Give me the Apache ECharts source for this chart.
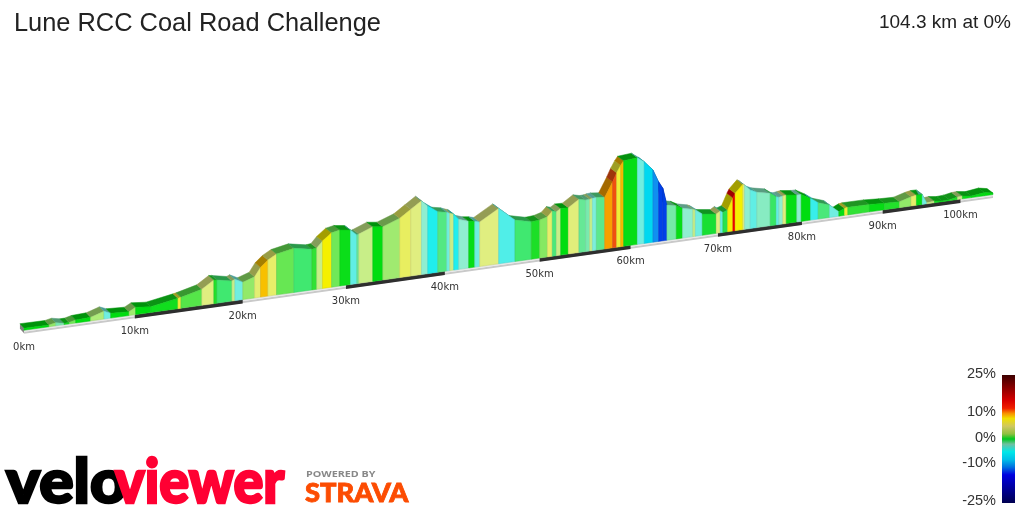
<!DOCTYPE html>
<html><head><meta charset="utf-8">
<style>html,body{margin:0;padding:0;background:#fff}#c{width:1024px;height:512px}</style>
<script src="https://cdn.jsdelivr.net/npm/echarts@6/dist/echarts.min.js"></script>
</head><body><div id="c"></div>
<script>
const titleText = 'Lune RCC Coal Road Challenge';
const summaryText = '104.3 km at 0%';
const tickKm = [0,10,20,30,40,50,60,70,80,90,100];
const darkBands = [[10,20],[30,40],[50,60],[70,80],[90,100]];
const totalKm = 104.3;
const kmStops = [0.17,2.35,2.94,3.67,4.11,4.70,6.03,7.22,7.82,9.47,10.07,11.44,13.94,14.22,16.16,17.28,17.57,18.98,19.26,20.01,
21.13,21.70,22.40,23.23,24.90,26.65,27.13,27.69,28.58,29.39,30.45,31.08,31.28,32.67,33.68,35.39,36.51,37.60,38.24,39.27,
40.20,40.51,40.92,41.44,42.48,43.11,43.63,45.63,47.36,49.11,50.01,50.84,51.37,51.81,52.28,53.11,54.27,55.01,55.45,55.75,
56.19,57.11,57.99,58.44,58.89,59.22,60.76,61.54,62.52,63.16,63.65,64.11,65.18,65.90,67.09,67.37,68.18,69.80,70.27,70.57,71.13,
71.75,72.01,72.93,73.13,73.80,74.58,76.18,76.90,77.21,77.69,78.10,79.38,79.91,81.05,81.98,83.37,84.52,85.22,85.63,88.33,
90.22,92.12,93.61,94.29,95.03,95.62,96.61,97.65,98.56,99.61,100.26,101.44,103.16,104.3];
const elevations = [4,3.4,6.2,2.6,2.8,6,7.3,15.7,9.8,7.8,14.9,11.9,21.3,22.5,33.2,49.1,48.3,42,44.7,36.2,
44.5,62.6,75.9,86,93.2,86.2,87.5,100.9,116,119.6,116.6,104.1,105.7,117.6,114.8,128.2,144.6,160.3,147.3,132.1,
128.2,125.3,122.5,109.5,102.3,100.7,97.7,122.4,91.8,83.3,84.7,89.8,101,98.3,104.6,103.9,119.7,116.1,116.6,118,
119,116.7,149.8,169,185.2,194.3,197.5,186.4,165,136.5,120.1,80.7,76.1,68.4,62.8,60.5,49.1,44.6,50.4,46.5,50.5,
77.4,87,105.6,103.5,90.1,82.7,76.1,66.1,64.1,65.8,67,63.9,64,51.5,38.8,29.6,10.5,16.7,18,18,
15.5,14.3,22.4,24.8,24.6,2.4,4.2,1.5,2.5,6,6.8,3.7,7.9,3.7];
const segmentGrades = [0,2,-1.5,0.3,1.5,0,2.5,-3,0,2.2,0,0.3,5,1.2,3.5,0.6,-0.8,3,-3,2,
3.8,8,4,1.4,-0.8,0.8,3,6,1.5,0.2,-3.5,-1.2,3,0,2.2,4.2,3.5,-2,-5,-1,
-3,3,-5,-2,0.1,-3,3.5,-4,-0.8,0.5,1.8,4,-0.9,3,0,3.6,-1.2,-1.5,3,-2.6,
-1.1,10,12,5,8.5,0.1,-3,-7,-10,-13,-13,-1.4,0.1,-2,3,-3,-0.3,3.5,-3.5,-0.5,6,
15,6,3.5,-2,-3.5,-1.8,-0.7,-3.5,-2,3.5,0.1,-2,0,-4.5,-0.9,-3,0.1,5,0.8,0.1,
0.6,2,4,0.1,-3,3,0.3,0.3,0.5,3,0.2,0.1,0];
const legendTicks = [['25%',374],['10%',412],['0%',438],['-10%',463],['-25%',501]];

// palette: grade -> wall colour
const wallPalette = [[-25,[0,0,128]],[-13,[0,64,232]],[-10,[16,144,240]],[-7,[0,216,240]],[-5,[32,238,238]],[-4,[80,238,232]],
[-3,[112,238,224]],[-2,[144,238,208]],[-1.3,[112,232,160]],[-0.8,[64,232,112]],[-0.4,[32,224,64]],[0,[0,221,16]],[0.7,[40,224,48]],
[1.5,[112,232,88]],[2.2,[160,234,112]],[3,[200,238,136]],[3.5,[224,238,128]],[4.2,[232,238,96]],[6,[245,240,0]],[8,[248,192,0]],
[10,[248,160,0]],[12,[240,80,16]],[15,[240,0,0]],[25,[80,0,0]]];
function wallRGB(g){
  for(let i=1;i<wallPalette.length;i++){
    if(g<=wallPalette[i][0]){
      const a=wallPalette[i-1],b=wallPalette[i],t=(g-a[0])/(b[0]-a[0]);
      return a[1].map((v,j)=>Math.round(v+(b[1][j]-v)*t));
    }
  }
  return wallPalette[wallPalette.length-1][1];
}
const css=(c,m)=>'rgb('+c.map(v=>Math.round(v*m)).join(',')+')';

const segs = segmentGrades.map((g,i)=>[kmStops[i],elevations[i],kmStops[i+1],elevations[i+1],g]);
const PERSP=0.0023, SLOPE=0.14, STRIP=3, BACKY=-4.5;
const backX = km => -4 - Math.min(km/30,1)*2;
function project(api,km,el){
  const o=api.coord([0,0]),p=api.coord([km,el]);
  const x=o[0]+(p[0]-o[0])*(1+PERSP*totalKm)/(1+PERSP*km);
  const base=o[1]-SLOPE*(x-o[0]);
  return {x,base,top:base-STRIP-(o[1]-p[1])/(1+PERSP*km)};
}
const chart=echarts.init(document.getElementById('c'),null,{renderer:'canvas'});
chart.setOption({
  animation:false,
  backgroundColor:'#fff',
  title:{text:titleText,left:9,top:6.5,textStyle:{fontFamily:'Liberation Sans',fontWeight:'normal',fontSize:25.4,color:'#222'}},
  grid:{left:22,top:133.5,width:971,height:200},
  xAxis:{type:'value',min:0,max:totalKm,show:false},
  yAxis:{type:'value',min:0,max:400,show:false},
  series:[
    {type:'custom',coordinateSystem:'cartesian2d',z:1,silent:true,data:[[kmStops[0],totalKm]],
     renderItem(p,api){
       const a=project(api,api.value(0),0),b=project(api,api.value(1),0);
       const e1=project(api,kmStops[0],elevations[0]);
       return {type:'group',children:[
         {type:'polygon',shape:{points:[[a.x,a.base-STRIP+1.5],[b.x,b.base-STRIP+1.5],[b.x,b.base+0.5],[a.x,a.base+0.5]]},style:{fill:'#c9c9c9'}},
         {type:'polygon',shape:{points:[[a.x,a.base-STRIP],[b.x,b.base-STRIP],[b.x,b.base-STRIP+1.5],[a.x,a.base-STRIP+1.5]]},style:{fill:'#e6e6e6'}},
         {type:'polygon',shape:{points:[[e1.x,e1.top],[e1.x-4,e1.top+BACKY],[e1.x-4,a.base+BACKY],[e1.x,a.base]]},style:{fill:'#808080'}}
       ]};
     }},
    {type:'custom',coordinateSystem:'cartesian2d',z:2,silent:true,data:darkBands,
     renderItem(p,api){
       const a=project(api,api.value(0),0),b=project(api,api.value(1),0);
       return {type:'polygon',shape:{points:[[a.x,a.base-STRIP],[b.x,b.base-STRIP],[b.x,b.base+0.8],[a.x,a.base+0.8]]},style:{fill:'#2e2e2e'}};
     }},
    {type:'custom',coordinateSystem:'cartesian2d',z:3,silent:true,data:segs,
     renderItem(p,api){
       const k0=api.value(0),k1=api.value(2);
       const a=project(api,k0,api.value(1)),b=project(api,k1,api.value(3));
       const c=wallRGB(api.value(4));
       return {type:'polygon',shape:{points:[[a.x,a.top],[b.x,b.top],[b.x+backX(k1),b.top+BACKY],[a.x+backX(k0),a.top+BACKY]]},
         style:{fill:css(c,0.66),stroke:css(c,0.66),lineWidth:0.5}};
     }},
    {type:'custom',coordinateSystem:'cartesian2d',z:4,silent:true,data:segs,
     renderItem(p,api){
       const a=project(api,api.value(0),api.value(1)),b=project(api,api.value(2),api.value(3));
       const c=wallRGB(api.value(4));
       return {type:'polygon',shape:{points:[[a.x,a.top],[b.x,b.top],[b.x,b.base-STRIP],[a.x,a.base-STRIP]]},
         style:{fill:css(c,1),stroke:css(c,0.88),lineWidth:0.5}};
     }},
    {type:'custom',coordinateSystem:'cartesian2d',z:5,silent:true,data:tickKm.map(k=>[k]),
     renderItem(p,api){
       const k=api.value(0),a=project(api,k,0);
       return {type:'text',x:a.x+(k===0?2:0),y:a.base+13.5,style:{text:k+'km',font:'10px "DejaVu Sans"',fill:'#333',textAlign:'center',textVerticalAlign:'middle'}};
     }}
  ],
  graphic:[
    {type:'text',right:13,top:13,style:{text:summaryText,font:'19px "Liberation Sans"',fill:'#222'}},
    {type:'rect',left:1002,top:375,shape:{width:13,height:128},style:{fill:new echarts.graphic.LinearGradient(0,0,0,1,[
      {offset:0,color:'#3c0000'},{offset:.2,color:'#d80000'},{offset:.26,color:'#f02000'},{offset:.3,color:'#f89000'},
      {offset:.34,color:'#f0e000'},{offset:.4,color:'#d0c860'},{offset:.46,color:'#90c040'},{offset:.5,color:'#00c820'},
      {offset:.54,color:'#70c0a0'},{offset:.6,color:'#00e8e8'},{offset:.66,color:'#00c0e8'},{offset:.72,color:'#0070e0'},
      {offset:.78,color:'#0000e0'},{offset:1,color:'#000050'}])}},
    ...legendTicks.map(t=>({type:'text',x:996,y:t[1],style:{text:t[0],font:'14.5px "Liberation Sans"',fill:'#333',textAlign:'right',textVerticalAlign:'middle'}})),
    {type:'text',x:6,y:514,scaleX:1.07,style:{text:'velo',font:'900 60px Lato',fill:'#000',stroke:'#000',lineWidth:2.5,textVerticalAlign:'bottom'}},
    {type:'text',x:115,y:514,scaleX:0.93,style:{text:'viewer',font:'900 60px Lato',fill:'#ff0033',stroke:'#ff0033',lineWidth:2.5,textVerticalAlign:'bottom'}},
    {type:'text',x:306,y:474,scaleX:1.13,style:{text:'POWERED BY',font:'bold 9.5px "Open Sans"',fill:'#888',textVerticalAlign:'middle'}},
    {type:'text',x:305,y:494,scaleX:1.05,style:{text:'STRAVA',font:'900 26px Lato',fill:'#fc4c02',stroke:'#fc4c02',lineWidth:0.8,textVerticalAlign:'middle'}}
  ]
});
</script></body></html>
